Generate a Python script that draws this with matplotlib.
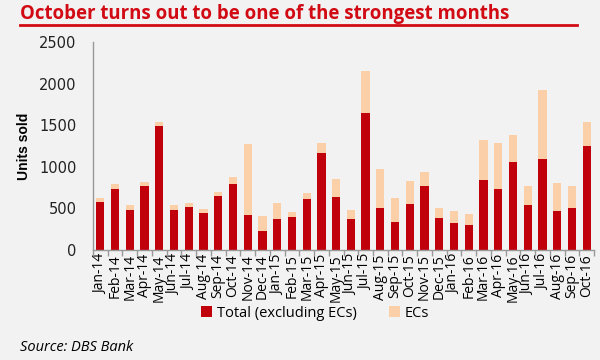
import matplotlib.pyplot as plt
import numpy as np
from matplotlib.lines import Line2D

months = ['Jan-14', 'Feb-14', 'Mar-14', 'Apr-14', 'May-14', 'Jun-14', 'Jul-14', 'Aug-14',
          'Sep-14', 'Oct-14', 'Nov-14', 'Dec-14', 'Jan-15', 'Feb-15', 'Mar-15', 'Apr-15',
          'May-15', 'Jun-15', 'Jul-15', 'Aug-15', 'Sep-15', 'Oct-15', 'Nov-15', 'Dec-15',
          'Jan-16', 'Feb-16', 'Mar-16', 'Apr-16', 'May-16', 'Jun-16', 'Jul-16', 'Aug-16',
          'Sep-16', 'Oct-16']

# private home sales excluding executive condos
total_ex_ec = [576, 736, 480, 768, 1488, 480, 512, 440, 652, 792, 420, 232, 368, 392, 612, 1168,
               640, 368, 1652, 508, 340, 548, 764, 380, 320, 304, 840, 736, 1056, 536, 1096, 472,
               508, 1248]
# stacked top of each bar (total incl. ECs)
total_with_ec = [624, 792, 540, 816, 1536, 540, 564, 496, 696, 880, 1272, 408, 560, 456, 688, 1288,
                 852, 480, 2148, 980, 624, 828, 940, 508, 472, 436, 1320, 1284, 1388, 764, 1920, 800,
                 764, 1536]
ecs = [t - r for t, r in zip(total_with_ec, total_ex_ec)]

RED = '#c0000b'
PEACH = '#fbd0a8'
TITLE_RED = '#d10a14'
BG = '#f2f2f2'


def main():
    plt.rcParams['font.family'] = ['Open Sans', 'DejaVu Sans']
    fig = plt.figure(figsize=(6, 3.6), dpi=100, facecolor=BG)
    ax = fig.add_axes([0.155, 0.3056, 0.835, 0.5774], facecolor=BG)

    x = np.arange(len(months))
    w = 0.56
    ax.bar(x, total_ex_ec, w, color=RED, label='Total (excluding ECs)', zorder=2)
    ax.bar(x, ecs, w, bottom=total_ex_ec, color=PEACH, label='ECs', zorder=2)

    ax.set_xlim(-0.5, len(months) - 0.5)
    ax.set_ylim(0, 2500)
    ax.set_yticks(range(0, 2501, 500))
    ax.tick_params(axis='y', length=0, pad=12, colors='#222222')
    for lbl in ax.get_yticklabels():
        lbl.set_family('DejaVu Sans')
        lbl.set_fontsize(10.5)
    ax.set_xticks(x)
    ax.set_xticklabels(months, rotation=90, fontsize=10)
    ax.tick_params(axis='x', length=0, pad=3)
    ax.set_xticks(np.arange(-0.5, len(months), 1), minor=True)
    ax.tick_params(axis='x', which='minor', length=4, color='#999999', width=1)

    for s in ['top', 'right']:
        ax.spines[s].set_visible(False)
    for s in ['left', 'bottom']:
        ax.spines[s].set_color('#999999')
        ax.spines[s].set_linewidth(1)

    ax.set_ylabel('Units sold', fontsize=10, fontweight='bold',
                  family=['Liberation Sans Narrow', 'Liberation Sans'], labelpad=6)

    fig.legend(loc='center', bbox_to_anchor=(0.525, 0.13), ncol=2, frameon=False,
               fontsize=10.5, handlelength=0.8, handleheight=0.8, handletextpad=0.3,
               columnspacing=2.2)

    fig.text(0.033, 0.962, 'October turns out to be one of the strongest months',
             color=TITLE_RED, fontsize=13.4, fontweight='bold', va='center')
    fig.add_artist(Line2D([0.033, 0.962], [0.93, 0.93], color=TITLE_RED, lw=2,
                          transform=fig.transFigure))
    fig.text(0.033, 0.035, 'Source: DBS Bank', fontsize=10.5, style='italic', va='center')

    fig.savefig('out.png', dpi=100, facecolor=BG)


if __name__ == '__main__':
    main()
